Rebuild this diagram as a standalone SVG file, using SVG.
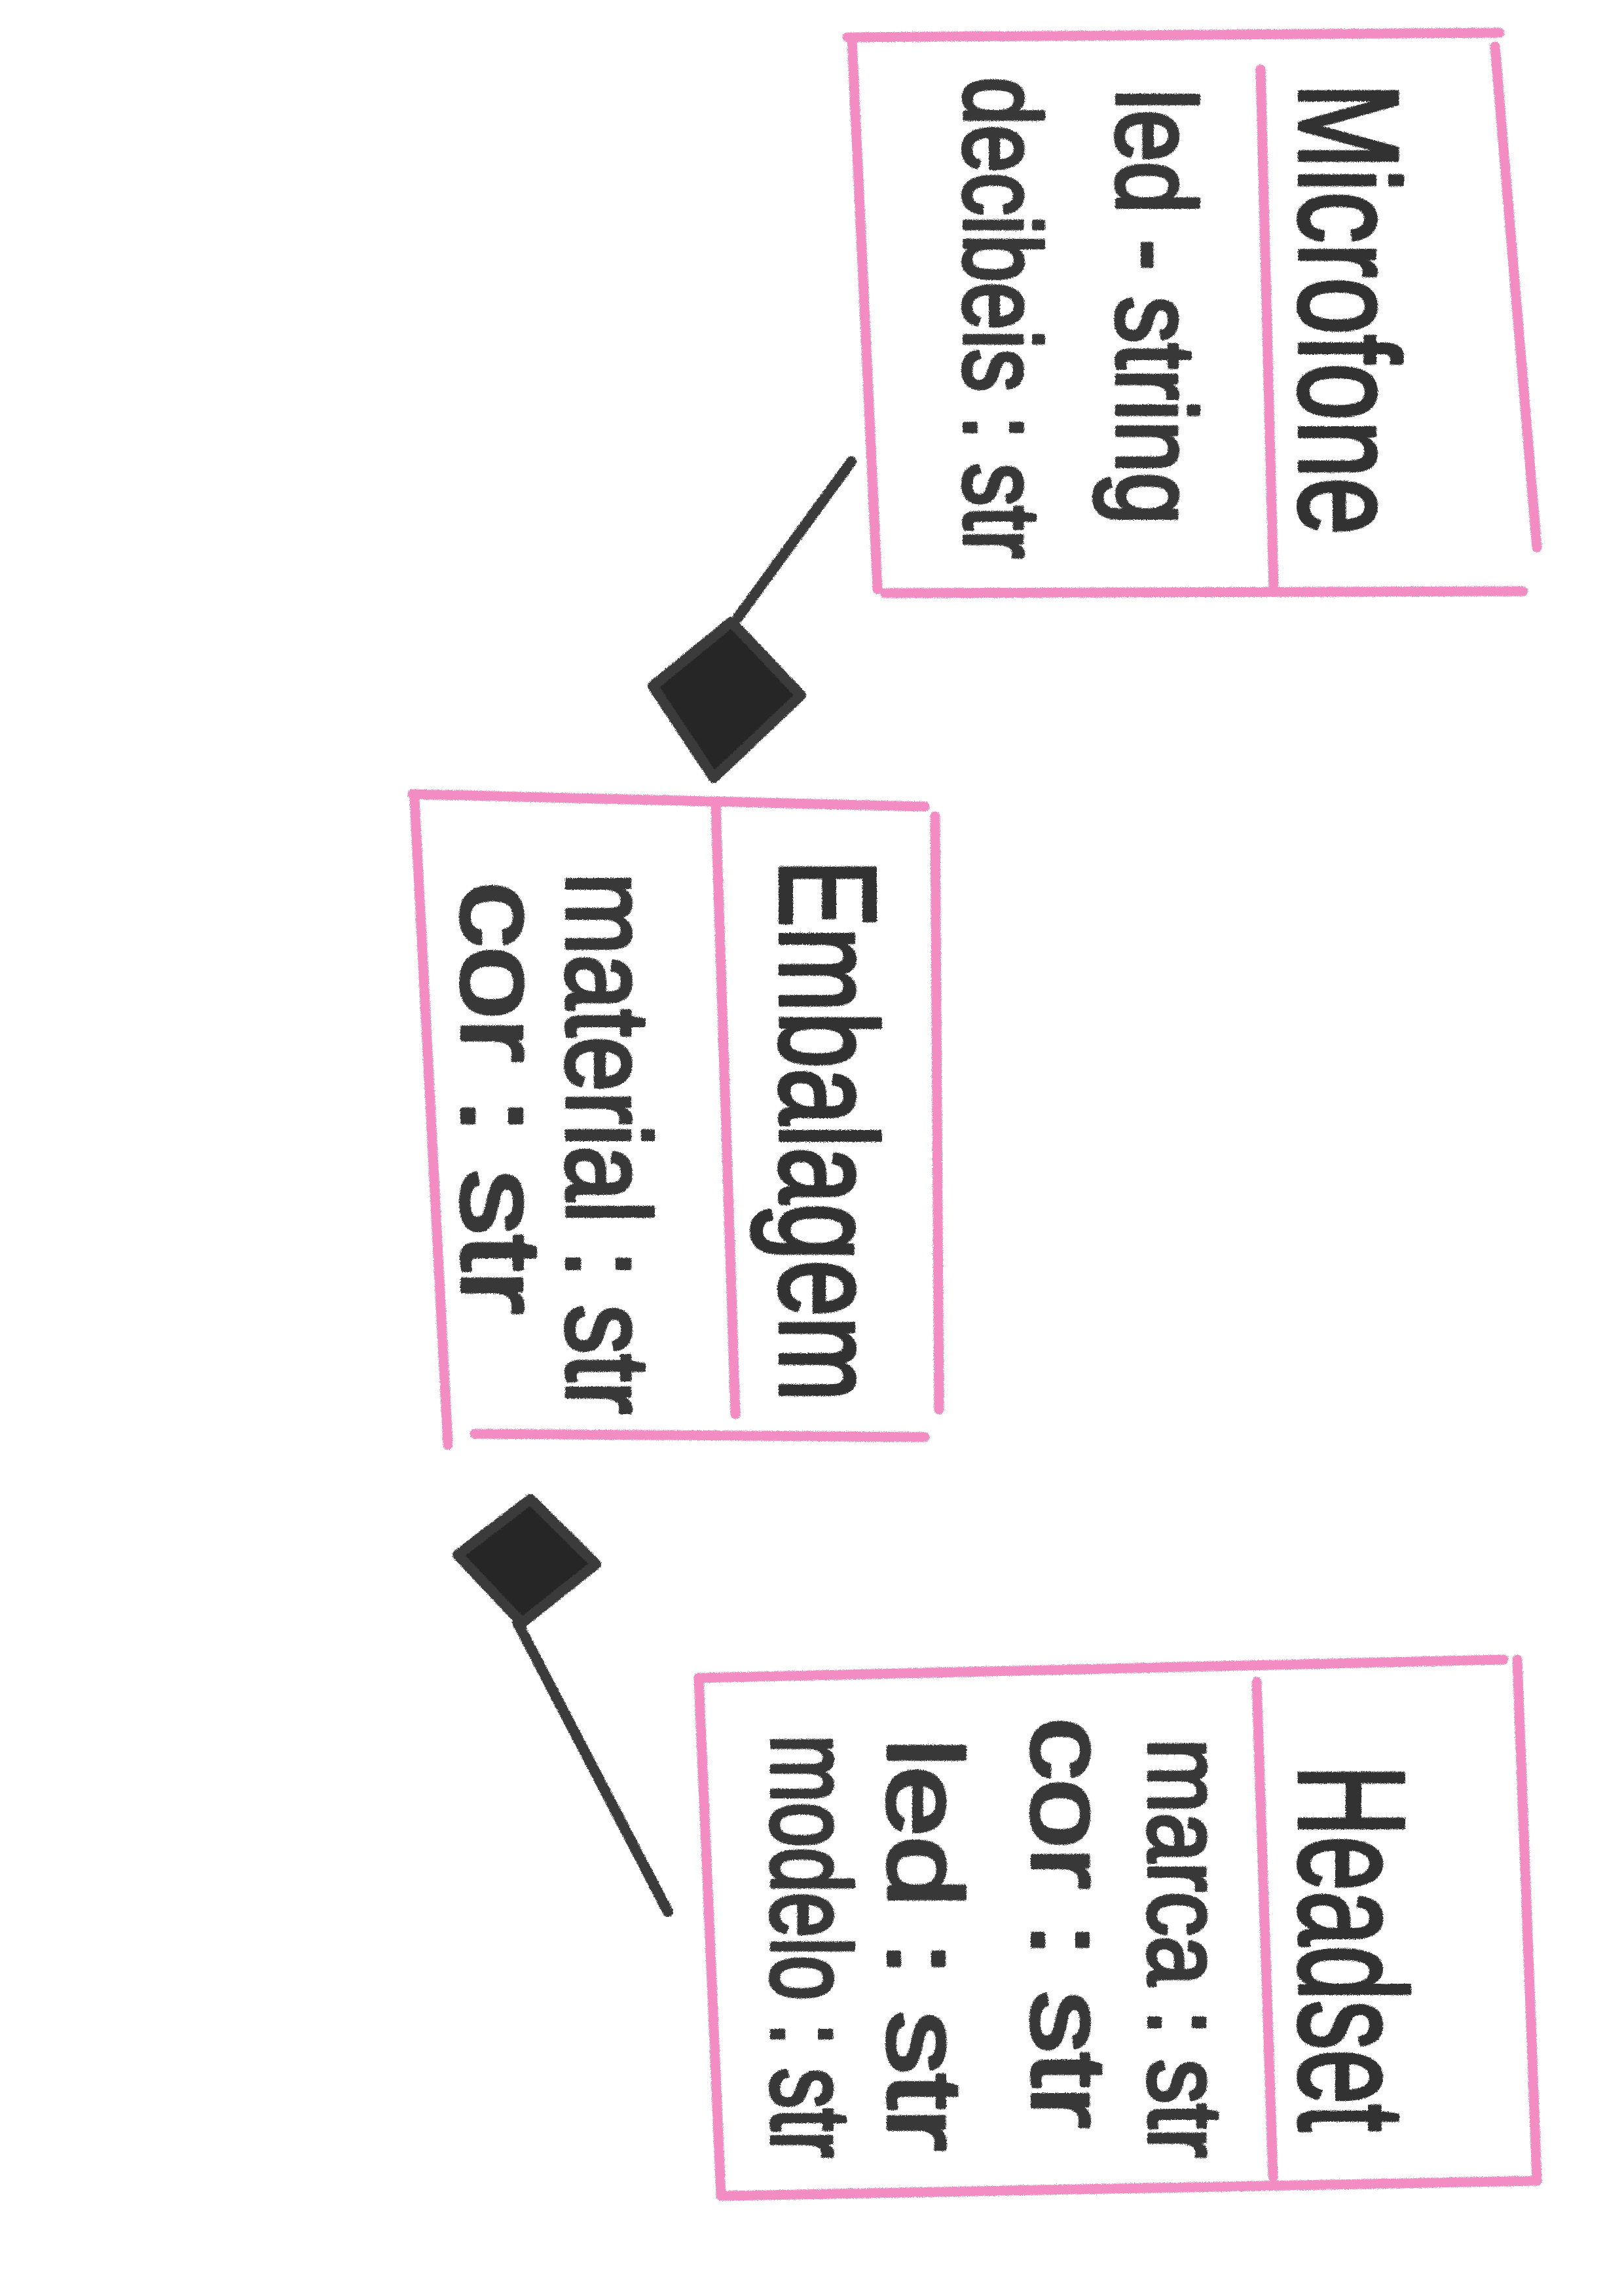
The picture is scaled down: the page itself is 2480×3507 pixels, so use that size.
<svg xmlns="http://www.w3.org/2000/svg" width="2480" height="3507" viewBox="0 0 2480 3507">
  <defs>
    <filter id="crayon" x="-5%" y="-5%" width="110%" height="110%">
      <feTurbulence type="fractalNoise" baseFrequency="0.9" numOctaves="2" seed="3" result="n"/>
      <feDisplacementMap in="SourceGraphic" in2="n" scale="5" xChannelSelector="R" yChannelSelector="G"/>
    </filter>
    <style>
      .frame { fill: none; stroke: #f28cc3; stroke-width: 15; stroke-linecap: round; stroke-linejoin: round; }
      .wire { fill: none; stroke: #3a3a3a; stroke-width: 16; stroke-linecap: round; stroke-linejoin: round; }
      .diamond { fill: #262626; stroke: #3a3a3a; stroke-width: 16; stroke-linejoin: round; }
      .title { font-family: "Liberation Sans", "DejaVu Sans", sans-serif; font-weight: normal; fill: #333333; stroke: #333333; stroke-width: 6; stroke-linejoin: round; }
      .attr { font-family: "Liberation Sans", "DejaVu Sans", sans-serif; font-weight: normal; fill: #383838; stroke: #383838; stroke-width: 6; stroke-linejoin: round; }
    </style>
  </defs>
  <rect width="2480" height="3507" fill="#ffffff"/>

  <g id="connectors" filter="url(#crayon)">
    <g id="microfone-embalagem">
      <path class="wire" d="M1300,705 L1127,943"/>
      <polygon class="diamond" points="1117,950 1223,1062 1090,1188 997,1048"/>
    </g>
    <g id="embalagem-headset">
      <polygon class="diamond" points="699,2375 810,2290 910,2389 797,2479"/>
      <path class="wire" d="M790,2478 L1020,2920"/>
    </g>
  </g>

  <g id="microfone" filter="url(#crayon)">
    <path class="frame" d="M1294,57 L2290,50"/>
    <path class="frame" d="M2283,71 L2347,836"/>
    <path class="frame" d="M1351,906 L2326,903"/>
    <path class="frame" d="M1301,60 L1340,900"/>
    <path class="frame" d="M1925,106 L1945,900"/>
    <text class="title" font-size="215" textLength="690" lengthAdjust="spacingAndGlyphs" transform="translate(1985,127) rotate(90)">Microfone</text>
    <text class="attr" font-size="170" textLength="665" lengthAdjust="spacingAndGlyphs" transform="translate(1706,136) rotate(90)">led - string</text>
    <text class="attr" font-size="165" textLength="735" lengthAdjust="spacingAndGlyphs" transform="translate(1473,118) rotate(90)">decibeis : str</text>
  </g>

  <g id="embalagem" filter="url(#crayon)">
    <path class="frame" d="M630,1213 L1412,1232"/>
    <path class="frame" d="M1428,1247 L1434,2153"/>
    <path class="frame" d="M633,1220 L684,2207"/>
    <path class="frame" d="M725,2190 L1412,2195"/>
    <path class="frame" d="M1093,1233 L1123,2160"/>
    <text class="title" font-size="210" textLength="827" lengthAdjust="spacingAndGlyphs" transform="translate(1192,1313) rotate(90)">Embalagem</text>
    <text class="attr" font-size="180" textLength="827" lengthAdjust="spacingAndGlyphs" transform="translate(866,1333) rotate(90)">material : str</text>
    <text class="attr" font-size="170" textLength="660" lengthAdjust="spacingAndGlyphs" transform="translate(706,1347) rotate(90)">cor : str</text>
  </g>

  <g id="headset" filter="url(#crayon)">
    <path class="frame" d="M1067,2563 L2296,2535"/>
    <path class="frame" d="M2317,2535 L2347,3331"/>
    <path class="frame" d="M1067,2563 L1101,3354"/>
    <path class="frame" d="M1109,3354 L2347,3331"/>
    <path class="frame" d="M1919,2569 L1944,3325"/>
    <text class="title" font-size="230" textLength="560" lengthAdjust="spacingAndGlyphs" transform="translate(1985,2696) rotate(90)">Headset</text>
    <text class="attr" font-size="160" textLength="640" lengthAdjust="spacingAndGlyphs" transform="translate(1755,2656) rotate(90)">marca : str</text>
    <text class="attr" font-size="160" textLength="626" lengthAdjust="spacingAndGlyphs" transform="translate(1577,2624) rotate(90)">cor : str</text>
    <text class="attr" font-size="160" textLength="629" lengthAdjust="spacingAndGlyphs" transform="translate(1357,2656) rotate(90)">led : str</text>
    <text class="attr" font-size="170" textLength="646" lengthAdjust="spacingAndGlyphs" transform="translate(1179,2650) rotate(90)">modelo : str</text>
  </g>
</svg>
